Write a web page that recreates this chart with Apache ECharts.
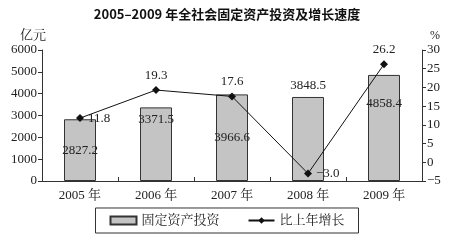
<!DOCTYPE html>
<html><head><meta charset="utf-8">
<script src="https://cdn.jsdelivr.net/npm/echarts@6/dist/echarts.min.js"></script>
<style>html,body{margin:0;padding:0;background:#fff}#c{width:454px;height:243px}</style>
</head><body><div id="c"></div>
<script>
const categories = ['2005 年','2006 年','2007 年','2008 年','2009 年'];
const investment = [2827.2, 3371.5, 3966.6, 3848.5, 4858.4];
const growth = [11.8, 19.3, 17.6, -3.0, 26.2];
const investLabels = ['2827.2','3371.5','3966.6','3848.5','4858.4'];
const growthLabels = ['11.8','19.3','17.6','\u22123.0','26.2'];
const leftTicks = [0,1000,2000,3000,4000,5000,6000];
const rightTicks = [-5,0,5,10,15,20,25,30];

const serif = '"Liberation Serif","Noto Serif CJK SC","Noto Sans CJK SC",serif';
const barPos = ['inside','insideTop','inside','top','insideTop'];
const barDist = [0,6,0,5,22];
const linePos = ['right','top','top','right','top'];

const chart = echarts.init(document.getElementById('c'), null, {renderer:'canvas'});
chart.setOption({
  animation:false,
  title:{text:'2005\u20132009 年全社会固定资产投资及增长速度', left:'center', top:3,
    textStyle:{fontSize:13, fontWeight:'bold', color:'#111', fontFamily:'"Noto Sans CJK SC",sans-serif'}},
  grid:{left:42, right:32, top:50, bottom:62},
  legend:{bottom:10, left:'center', itemGap:28, padding:[6,14], borderColor:'#333', borderWidth:1,
    textStyle:{fontSize:13, color:'#222', fontFamily:serif},
    data:[{name:'固定资产投资', icon:'rect'},{name:'比上年增长'}], itemWidth:26, itemHeight:8},
  xAxis:{type:'category', data:categories,
    axisLine:{lineStyle:{color:'#333'}},
    axisTick:{show:true, inside:true, length:4, lineStyle:{color:'#333'}},
    axisLabel:{fontSize:13, color:'#222', fontFamily:serif, margin:8}},
  yAxis:[
    {type:'value', min:leftTicks[0], max:leftTicks[leftTicks.length-1], interval:1000,
     name:'亿元', nameLocation:'end', nameGap:8, nameTextStyle:{fontSize:13, color:'#222', fontFamily:serif, align:'right', padding:[0,-4,0,0]},
     splitLine:{show:false},
     axisLine:{show:true, lineStyle:{color:'#333'}},
     axisTick:{show:true, length:4, lineStyle:{color:'#333'}},
     axisLabel:{fontSize:13, color:'#222', fontFamily:serif, margin:5, formatter:v=>String(v)}},
    {type:'value', min:rightTicks[0], max:rightTicks[rightTicks.length-1], interval:5,
     name:'%', nameLocation:'end', nameGap:8, nameTextStyle:{fontSize:12, color:'#222', fontFamily:serif, align:'left', padding:[0,0,0,8]},
     splitLine:{show:false},
     axisLine:{show:true, lineStyle:{color:'#333'}},
     axisTick:{show:true, length:4, lineStyle:{color:'#333'}},
     axisLabel:{fontSize:13, color:'#222', fontFamily:serif, margin:5,
       formatter:v=> v<0 ? '\u2212'+Math.abs(v) : String(v)}}
  ],
  series:[
    {name:'固定资产投资', type:'bar', yAxisIndex:0, barWidth:32,
     itemStyle:{color:'#c4c4c4', borderColor:'#333', borderWidth:1},
     data:investment.map((v,i)=>({value:v, label:{show:true, position:barPos[i], distance:barDist[i],
        formatter:investLabels[i], fontSize:13, color:'#222', fontFamily:serif}}))},
    {name:'比上年增长', type:'line', yAxisIndex:1, symbol:'diamond', symbolSize:8,
     lineStyle:{color:'#111', width:1}, itemStyle:{color:'#111'},
     data:growth.map((v,i)=>({value:v, label:{show:true, position:linePos[i], distance:4,
        formatter:growthLabels[i], fontSize:13, color:'#222', fontFamily:serif}}))}
  ]
});
</script></body></html>
